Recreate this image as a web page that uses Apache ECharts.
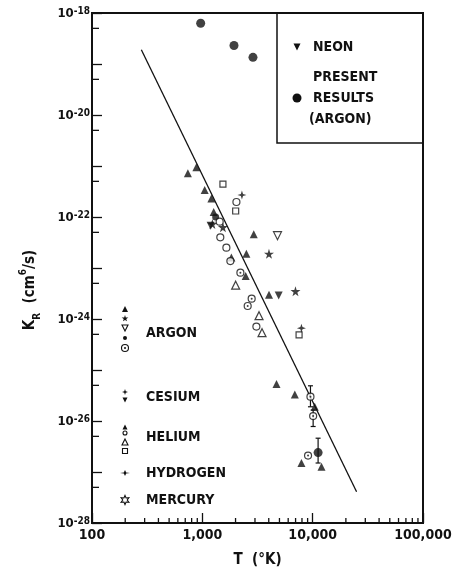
<!DOCTYPE html>
<html>
<head>
<meta charset="utf-8">
<script src="https://cdn.jsdelivr.net/npm/echarts@6/dist/echarts.min.js"></script>
<style>
  html, body { margin: 0; padding: 0; background: #fff; }
  #chart { width: 470px; height: 580px; }
</style>
</head>
<body>
<div id="chart"></div>
<script>
// ---- Axis ticks ----------------------------------------------------------
const xTickLabels = ['100', '1,000', '10,000', '100,000'];   // T decades (K)
const yLabelExponents = [-28, -26, -24, -22, -20, -18];       // labelled K_R decades
const xMinorTicks = [200, 300, 400, 500, 600, 700, 800, 900,
                     2000, 3000, 4000, 5000, 6000, 7000, 8000, 9000,
                     20000, 30000, 40000, 50000, 60000, 70000, 80000, 90000];
const yMinorTicks = [5e-28, 5e-27, 5e-26, 5e-25, 5e-24, 5e-23, 5e-22, 5e-21, 5e-20, 5e-19];

// ---- Measurements: [T (K), K_R (cm^6/s)] ---------------------------------
const presentResults = [[966, 6.3e-19], [1936, 2.3e-19], [2877, 1.35e-19], [11200, 2.4e-27]];
const neon = [[1189, 6.7e-23], [4920, 2.9e-24]];

const argonTriangles = [[740, 7.2e-22], [883, 9.4e-22], [1050, 3.4e-22], [1208, 2.3e-22],
                        [1268, 1.25e-22], [2925, 4.6e-23], [2506, 1.9e-23], [1833, 1.6e-23],
                        [2472, 7.0e-24], [4018, 3.0e-24]];
const argonStars = [[4018, 1.9e-23], [6985, 3.5e-24], [1537, 6.3e-23], [1233, 7.3e-23]];
const argonOpenDown = [[4800, 4.3e-23]];
const argonDots = [[1321, 1.0e-22]];
const argonRings = [[2213, 8.1e-24], [2800, 2.5e-24], [2577, 1.8e-24],
                    [9550, 3.0e-26], [10100, 1.25e-26], [9080, 2.1e-27]];

const heliumTriangles = [[4700, 5.3e-26], [6887, 3.3e-26], [7910, 1.5e-27],
                         [12020, 1.27e-27], [10450, 1.9e-26]];
const heliumCircles = [[1436, 8.1e-23], [1455, 4.0e-23], [1652, 2.5e-23],
                       [1795, 1.37e-23], [3090, 7.1e-25], [2037, 1.97e-22]];
const heliumOpenTriangles = [[2005, 4.6e-24], [3265, 1.16e-24], [3476, 5.4e-25]];
const heliumSquares = [[1537, 4.4e-22], [2005, 1.31e-22], [7530, 4.9e-25]];
const hydrogen = [[2285, 2.7e-22], [7910, 6.6e-25]];

// [T, lower K_R, upper K_R]
const errorBars = [[9550, 1.9e-26, 4.9e-26], [10100, 7.8e-27, 1.64e-26], [11200, 1.5e-27, 4.6e-27]];

// Straight-line fit through the data
const fitLine = [[280, 1.9e-19], [25000, 4.1e-28]];

// Both axes are decades: plot log10 of every value on linear value axes.
const lg = Math.log10;
const toLog = pts => pts.map(p => p.map(lg));

// ---- Styling helpers -----------------------------------------------------
const FONT = '"DejaVu Sans Condensed", "DejaVu Sans", sans-serif';
const INK = '#111';

// Marker outlines in a 0..100 box
const SHAPES = {
  tri: [[50, 0], [100, 100], [0, 100]],
  triDown: [[0, 0], [100, 0], [50, 100]],
  star5: [[50, 0], [61, 35], [98, 35], [68, 57], [79, 91], [50, 70], [21, 91], [32, 57], [2, 35], [39, 35]],
  star4: [[50, 0], [62, 38], [100, 50], [62, 62], [50, 100], [38, 62], [0, 50], [38, 38]],
  star6: [[50, 0], [62, 28], [93, 25], [75, 50], [93, 75], [62, 72], [50, 100], [38, 72], [7, 75], [25, 50], [7, 25], [38, 28]],
  rect: [[0, 0], [100, 0], [100, 100], [0, 100]],
  cross: [[0, 50], [38, 40], [50, 0], [62, 40], [100, 50], [62, 60], [50, 100], [38, 60]]
};
function symbolPath(name) {
  return 'path://M' + SHAPES[name].map(p => p[0] + ',' + p[1]).join(' L') + ' Z';
}

function scatter(name, data, symbol, size, filled, z) {
  return {
    name, type: 'scatter', data: toLog(data), symbol, symbolSize: size, z: z || 3,
    itemStyle: filled
      ? { color: INK, borderWidth: 0 }
      : { color: '#fff', borderColor: INK, borderWidth: 1.2 },
    emphasis: { disabled: true }
  };
}

// Legend marker drawn as a graphic element centred on (cx, cy)
function marker(shape, cx, cy, w, filled, h) {
  h = h || w;
  const style = filled
    ? { fill: INK, stroke: null }
    : { fill: '#fff', stroke: INK, lineWidth: 1.1 };
  if (shape === 'circle') {
    return { type: 'circle', shape: { cx, cy, r: w / 2 }, style };
  }
  return {
    type: 'polygon',
    shape: { points: SHAPES[shape].map(p => [cx - w / 2 + p[0] * w / 100, cy - h / 2 + p[1] * h / 100]) },
    style
  };
}
function ring(cx, cy, size) {
  return [marker('circle', cx, cy, size, false), marker('circle', cx, cy, 2, true)];
}
function label(text, x, y) {
  return { type: 'text', x, y, style: { text, fill: INK, font: 'bold 14px ' + FONT, align: 'left', verticalAlign: 'middle' } };
}

const chart = echarts.init(document.getElementById('chart'), null, { renderer: 'canvas' });

const legendX = 125;
const graphics = [
  // boxed legend, upper right
  { type: 'rect', shape: { x: 277, y: 13, width: 146, height: 130 }, style: { fill: null, stroke: INK, lineWidth: 1.5 } },
  marker('triDown', 297, 47, 7, true), label('NEON', 313, 47),
  label('PRESENT', 313, 77),
  marker('circle', 297, 98, 9, true), label('RESULTS', 313, 98),
  label('(ARGON)', 309, 119),

  // gas key, lower left
  marker('tri', legendX, 309, 6, true),
  marker('star5', legendX, 318.5, 7, true),
  marker('triDown', legendX, 328, 6, false),
  marker('circle', legendX, 338, 4, true),
  ...ring(legendX, 348, 7),
  label('ARGON', 146, 333),

  marker('star4', legendX, 392, 6, true),
  marker('triDown', legendX, 400, 5, true),
  label('CESIUM', 146, 397),

  marker('tri', legendX, 427, 5, true),
  marker('circle', legendX, 433, 4, false),
  marker('tri', legendX, 442, 6, false),
  marker('rect', legendX, 451, 5, false),
  label('HELIUM', 146, 437),

  marker('cross', legendX, 473, 10, true, 6),
  label('HYDROGEN', 146, 473),

  marker('star6', legendX, 500, 9, false),
  label('MERCURY', 146, 500),

  // y-axis title
  {
    type: 'text', x: 30, y: 290, rotation: Math.PI / 2,
    style: {
      text: '{n|K}{sub|R}{n|  (cm}{sup|6}{n|/s)}',
      align: 'center', verticalAlign: 'middle', fill: INK,
      rich: {
        n: { fontSize: 15, fontFamily: FONT, fontWeight: 'bold', lineHeight: 24, verticalAlign: 'middle', fill: INK },
        sub: { fontSize: 10, fontFamily: FONT, fontWeight: 'bold', verticalAlign: 'bottom', fill: INK },
        sup: { fontSize: 10, fontFamily: FONT, fontWeight: 'bold', verticalAlign: 'top', fill: INK }
      }
    }
  }
];

const xDecadeMin = lg(100), xDecadeMax = lg(100000);
const yDecadeMin = lg(1e-28), yDecadeMax = lg(1e-18);

chart.setOption({
  animation: false,
  backgroundColor: '#fff',
  grid: { left: 92, right: 47, top: 13, bottom: 57, show: true, borderColor: INK, borderWidth: 2, backgroundColor: 'transparent' },
  xAxis: {
    type: 'value', min: xDecadeMin, max: xDecadeMax, interval: 1,
    axisLine: { lineStyle: { color: INK, width: 2 } },
    axisTick: { inside: true, length: 10, lineStyle: { color: INK, width: 1.3 } },
    splitLine: { show: false },
    axisLabel: {
      color: INK, fontSize: 14, fontFamily: FONT, fontWeight: 'bold', margin: 5,
      formatter: v => xTickLabels[Math.round(v) - 2] || ''
    },
    name: 'T  (°K)', nameLocation: 'middle', nameGap: 30,
    nameTextStyle: { color: INK, fontSize: 15, fontFamily: FONT, fontWeight: 'bold' }
  },
  yAxis: {
    type: 'value', min: yDecadeMin, max: yDecadeMax, interval: 1,
    axisLine: { lineStyle: { color: INK, width: 2 } },
    axisTick: { inside: true, length: 10, lineStyle: { color: INK, width: 1.3 } },
    splitLine: { show: false },
    axisLabel: {
      color: INK, margin: 2,
      formatter: v => {
        const e = Math.round(v);
        return yLabelExponents.includes(e) ? '{b|10}{s|' + e + '}' : '';
      },
      rich: {
        b: { fontSize: 13, fontFamily: FONT, fontWeight: 'bold', color: INK, lineHeight: 14, verticalAlign: 'bottom' },
        s: { fontSize: 10, fontFamily: FONT, fontWeight: 'bold', color: INK, lineHeight: 10, verticalAlign: 'top', padding: [0, 0, 8, 0] }
      }
    }
  },
  graphic: graphics,
  series: [
    {
      name: 'fit', type: 'line', data: toLog(fitLine), showSymbol: false, symbol: 'none',
      lineStyle: { color: INK, width: 1.3 }, z: 2, silent: true
    },
    {
      name: 'xMinorTicks', type: 'custom', silent: true, clip: false, z: 6,
      data: xMinorTicks.map(v => [lg(v), yDecadeMin]),
      renderItem: (params, api) => {
        const p = api.coord([api.value(0), api.value(1)]);
        return { type: 'line', shape: { x1: p[0], y1: p[1], x2: p[0], y2: p[1] - 5 }, style: { stroke: INK, lineWidth: 1.3 } };
      }
    },
    {
      name: 'yMinorTicks', type: 'custom', silent: true, clip: false, z: 6,
      data: yMinorTicks.map(v => [xDecadeMin, lg(v)]),
      renderItem: (params, api) => {
        const p = api.coord([api.value(0), api.value(1)]);
        return { type: 'line', shape: { x1: p[0], y1: p[1], x2: p[0] + 7, y2: p[1] }, style: { stroke: INK, lineWidth: 1.3 } };
      }
    },
    {
      name: 'errorBars', type: 'custom', silent: true, z: 2,
      data: errorBars.map(r => r.map(lg)), encode: { x: 0, y: [1, 2] },
      renderItem: (params, api) => {
        const lo = api.coord([api.value(0), api.value(1)]);
        const hi = api.coord([api.value(0), api.value(2)]);
        const st = { stroke: INK, lineWidth: 1.2 };
        return {
          type: 'group', children: [
            { type: 'line', shape: { x1: lo[0], y1: lo[1], x2: hi[0], y2: hi[1] }, style: st },
            { type: 'line', shape: { x1: hi[0] - 2.5, y1: hi[1], x2: hi[0] + 2.5, y2: hi[1] }, style: st },
            { type: 'line', shape: { x1: lo[0] - 2.5, y1: lo[1], x2: lo[0] + 2.5, y2: lo[1] }, style: st }
          ]
        };
      }
    },
    scatter('Present results (argon)', presentResults, 'circle', 9, true, 4),
    scatter('Neon', neon, symbolPath('triDown'), 8, true),
    scatter('Argon ▲', argonTriangles, symbolPath('tri'), 8, true),
    scatter('Argon ★', argonStars, symbolPath('star5'), 10, true),
    scatter('Argon ▽', argonOpenDown, symbolPath('triDown'), 8, false),
    scatter('Argon •', argonDots, 'circle', 7, true),
    scatter('Argon ⊙', argonRings, 'circle', 7, false),
    scatter('Argon ⊙ centre', argonRings, 'circle', 2, true, 4),
    scatter('Helium ▲', heliumTriangles, symbolPath('tri'), 8, true),
    scatter('Helium ○', heliumCircles, 'circle', 7, false),
    scatter('Helium △', heliumOpenTriangles, symbolPath('tri'), 8, false),
    scatter('Helium □', heliumSquares, symbolPath('rect'), 6, false),
    scatter('Hydrogen', hydrogen, symbolPath('star4'), 9, true)
  ]
});
</script>
</body>
</html>
